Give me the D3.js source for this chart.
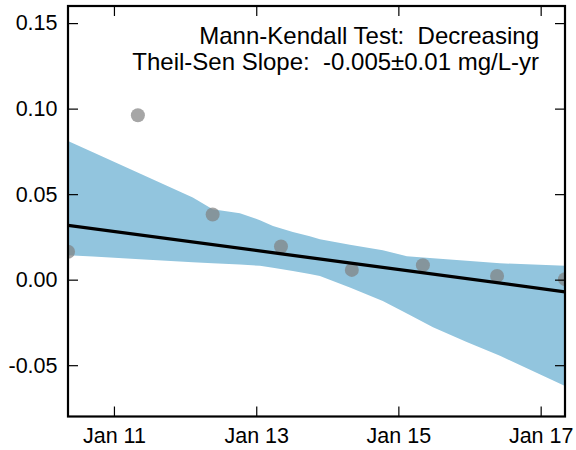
<!DOCTYPE html>
<html>
<head>
<meta charset="utf-8">
<script src="https://cdn.jsdelivr.net/npm/d3@7"></script>
<style>
  html, body { margin: 0; padding: 0; background: #fff; }
  svg { display: block; }
  text { font-family: "Liberation Sans", Arial, Helvetica, sans-serif; fill: #000; }
</style>
</head>
<body>
<svg id="chart" width="576" height="450"></svg>
<script>
// ---- data ----
const sampleDates = ["2010-05-10","2011-05-04","2012-05-22","2013-05-08","2014-05-07","2015-05-07","2016-05-22","2017-05-06"];
const sampleValues = [0.0163, 0.0961, 0.0381, 0.0194, 0.0057, 0.0085, 0.0022, 0.0003];

const bandDates = ["2010-05-10","2010-09-15","2011-05-14","2012-02-10","2012-05-22","2012-10-09","2013-01-20","2013-03-28","2013-07-08","2013-10-03","2013-11-24","2014-04-27","2014-10-13","2015-02-14","2015-06-28","2015-12-18","2016-06-06","2017-05-06"];
const bandUpper = [0.0811, 0.0745, 0.0620, 0.0480, 0.0412, 0.0389, 0.0348, 0.0314, 0.0278, 0.0254, 0.0237, 0.0204, 0.0172, 0.0137, 0.0125, 0.0110, 0.0096, 0.0081];
const bandLower = [0.0143, 0.0136, 0.0120, 0.0102, 0.0096, 0.0088, 0.0081, 0.0069, 0.0051, 0.0033, 0.0022, -0.0046, -0.0124, -0.0198, -0.0278, -0.0365, -0.0445, -0.0621];

const trendDates = ["2010-05-10", "2017-05-06"];
const trendValues = [0.0318, -0.0071];

const xTickDates = ["2011-01-01","2013-01-01","2015-01-01","2017-01-01"];
const xTickLabels = ["Jan 11","Jan 13","Jan 15","Jan 17"];
const yTickValues = [-0.05, 0.00, 0.05, 0.10, 0.15];
const yTickLabels = ["-0.05","0.00","0.05","0.10","0.15"];
const yDomain = [-0.08, 0.16];

const annotationLines = ["Mann-Kendall Test:  Decreasing", "Theil-Sen Slope:  -0.005\u00b10.01 mg/L-yr"];

// ---- layout ----
const svg = d3.select("#chart");
const pLeft = 68, pRight = 565, pTop = 6, pBottom = 416.5;
const parse = d3.utcParse("%Y-%m-%d");

const x = d3.scaleUtc()
  .domain([parse(sampleDates[0]), parse(sampleDates[sampleDates.length - 1])])
  .range([pLeft, pRight]);
const y = d3.scaleLinear().domain(yDomain).range([pBottom, pTop]);

svg.append("defs").append("clipPath").attr("id", "plotclip")
  .append("rect").attr("x", pLeft).attr("y", pTop).attr("width", pRight - pLeft).attr("height", pBottom - pTop);

const plot = svg.append("g").attr("clip-path", "url(#plotclip)");

// band
const band = bandDates.map((d, i) => ({ d: parse(d), hi: bandUpper[i], lo: bandLower[i] }));
plot.append("path")
  .datum(band)
  .attr("fill", "#92c5de")
  .attr("stroke", "none")
  .attr("d", d3.area().x(p => x(p.d)).y0(p => y(p.lo)).y1(p => y(p.hi)));

// points
plot.selectAll("circle.pt")
  .data(sampleDates.map((d, i) => ({ d: parse(d), v: sampleValues[i] })))
  .join("circle")
  .attr("class", "pt")
  .attr("cx", p => x(p.d))
  .attr("cy", p => y(p.v))
  .attr("r", 7)
  .attr("fill", "#808080")
  .attr("fill-opacity", 0.7);

// trend line
plot.append("path")
  .datum(trendDates.map((d, i) => ({ d: parse(d), v: trendValues[i] })))
  .attr("fill", "none")
  .attr("stroke", "#000")
  .attr("stroke-width", 3.3)
  .attr("d", d3.line().x(p => x(p.d)).y(p => y(p.v)));

// axes (ticks inward on all four sides)
const xTicks = xTickDates.map(parse);
const tickLen = 10;
const labelSize = 21.5;

const xAxisB = d3.axisBottom(x).tickValues(xTicks).tickSizeInner(-tickLen).tickSizeOuter(0)
  .tickPadding(11.5).tickFormat((d, i) => xTickLabels[i]);
const gxb = svg.append("g").attr("transform", `translate(0,${pBottom})`).call(xAxisB);
gxb.select(".domain").remove();
gxb.selectAll("line").attr("stroke", "#000").attr("stroke-width", 1.2);
gxb.selectAll("text").attr("font-size", labelSize).attr("font-family", "Liberation Sans, Arial, sans-serif");

const xAxisT = d3.axisTop(x).tickValues(xTicks).tickSizeInner(-tickLen).tickSizeOuter(0).tickFormat("");
const gxt = svg.append("g").attr("transform", `translate(0,${pTop})`).call(xAxisT);
gxt.select(".domain").remove();
gxt.selectAll("line").attr("stroke", "#000").attr("stroke-width", 1.2);

const yAxisL = d3.axisLeft(y).tickValues(yTickValues).tickSizeInner(-tickLen).tickSizeOuter(0)
  .tickPadding(10.5).tickFormat((d, i) => yTickLabels[i]);
const gyl = svg.append("g").attr("transform", `translate(${pLeft},0)`).call(yAxisL);
gyl.select(".domain").remove();
gyl.selectAll("line").attr("stroke", "#000").attr("stroke-width", 1.2);
gyl.selectAll("text").attr("font-size", labelSize).attr("font-family", "Liberation Sans, Arial, sans-serif");

const yAxisR = d3.axisRight(y).tickValues(yTickValues).tickSizeInner(-tickLen).tickSizeOuter(0).tickFormat("");
const gyr = svg.append("g").attr("transform", `translate(${pRight},0)`).call(yAxisR);
gyr.select(".domain").remove();
gyr.selectAll("line").attr("stroke", "#000").attr("stroke-width", 1.2);

// frame
svg.append("rect")
  .attr("x", pLeft).attr("y", pTop).attr("width", pRight - pLeft).attr("height", pBottom - pTop)
  .attr("fill", "none").attr("stroke", "#000").attr("stroke-width", 2.2);

// annotation
const ann = svg.append("text")
  .attr("text-anchor", "end")
  .attr("font-size", 24)
  .style("white-space", "pre");
annotationLines.forEach((t, i) => {
  ann.append("tspan").attr("x", 539).attr("y", 44 + i * 26).text(t);
});
</script>
</body>
</html>
